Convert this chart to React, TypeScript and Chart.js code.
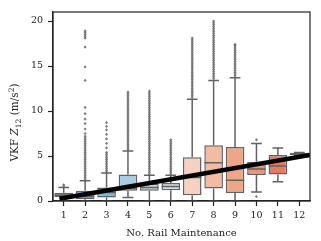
import React, { useEffect, useRef } from "react";
import { Chart, registerables } from "chart.js";

Chart.register(...registerables);

const categories = [1, 2, 3, 4, 5, 6, 7, 8, 9, 10, 11, 12];
const q1 = [0.44, 0.2, 0.4, 1.15, 1.15, 1.2, 0.65, 1.4, 0.9, 2.9, 2.95, 5.1];
const medians = [0.6, 0.5, 0.95, 1.4, 1.5, 1.6, 2.6, 4.25, 2.3, 3.55, 3.9, 5.2];
const q3 = [0.92, 1.15, 1.5, 2.95, 1.95, 2.0, 4.85, 6.2, 6.0, 4.35, 5.1, 5.35];
const whiskerLow = [0, 0, 0, 0.4, 0, 0, 0, 0, 0, 1.0, 2.15, 5.05];
const whiskerHigh = [1.5, 2.25, 3.1, 5.55, 2.85, 2.85, 11.3, 13.4, 13.7, 6.4, 5.9, 5.4];

const outliers1 = [1.65, 1.8];
const outliers2 = [2.4, 2.6, 2.8, 3.0, 3.2, 3.4, 3.6, 3.8, 4.0, 4.2, 4.4, 4.6, 4.8, 5.0, 5.2, 5.4, 5.6, 5.8, 6.0, 6.2, 6.4, 6.6, 6.8, 7.0, 7.2, 7.5, 8.0, 8.6, 9.1, 9.7, 10.4, 13.4, 14.9, 17.1, 18.1, 18.3, 18.5, 18.7, 18.9];
const outliers3 = [3.2, 3.4, 3.6, 3.8, 4.0, 4.2, 4.4, 4.6, 4.8, 5.0, 5.2, 5.4, 5.9, 6.4, 6.9, 7.4, 7.9, 8.3, 8.7];
const outliers4 = [5.7, 5.9, 6.1, 6.3, 6.5, 6.7, 6.9, 7.1, 7.3, 7.5, 7.7, 7.9, 8.1, 8.3, 8.5, 8.7, 8.9, 9.1, 9.3, 9.5, 9.7, 9.9, 10.1, 10.3, 10.5, 10.7, 10.9, 11.1, 11.3, 11.5, 11.7, 11.9, 12.1];
const outliers5 = [3.0, 3.2, 3.4, 3.6, 3.8, 4.0, 4.2, 4.4, 4.6, 4.8, 5.0, 5.2, 5.4, 5.6, 5.8, 6.0, 6.2, 6.4, 6.6, 6.8, 7.0, 7.2, 7.4, 7.6, 7.8, 8.0, 8.2, 8.4, 8.6, 8.8, 9.0, 9.2, 9.4, 9.6, 9.8, 10.0, 10.2, 10.4, 10.6, 10.8, 11.0, 11.2, 11.4, 11.6, 11.8, 12.0, 12.2];
const outliers6 = [3.0, 3.2, 3.4, 3.6, 3.8, 4.0, 4.2, 4.4, 4.6, 4.8, 5.0, 5.2, 5.4, 5.6, 5.8, 6.0, 6.2, 6.4, 6.6, 6.8];
const outliers7 = [11.5, 11.7, 11.9, 12.1, 12.3, 12.5, 12.7, 12.9, 13.1, 13.3, 13.5, 13.7, 13.9, 14.1, 14.3, 14.5, 14.7, 14.9, 15.1, 15.3, 15.5, 15.7, 15.9, 16.1, 16.3, 16.5, 16.7, 16.9, 17.1, 17.3, 17.5, 17.7, 17.9, 18.1];
const outliers8 = [13.6, 13.8, 14.0, 14.2, 14.4, 14.6, 14.8, 15.0, 15.2, 15.4, 15.6, 15.8, 16.0, 16.2, 16.4, 16.6, 16.8, 17.0, 17.2, 17.4, 17.6, 17.8, 18.0, 18.2, 18.4, 18.6, 18.8, 19.0, 19.2, 19.4, 19.6, 19.8, 20.0];
const outliers9 = [13.9, 14.1, 14.3, 14.5, 14.7, 14.9, 15.1, 15.3, 15.5, 15.7, 15.9, 16.1, 16.3, 16.5, 16.7, 16.9, 17.1, 17.3, 17.4];
const outliers10 = [6.8, 0.5];
const outliers11: number[] = [];
const outliers12: number[] = [];
const outliers = [outliers1, outliers2, outliers3, outliers4, outliers5, outliers6, outliers7, outliers8, outliers9, outliers10, outliers11, outliers12];

const fillColors = ["#5a6670", "#5596c4", "#84b8d8", "#a7cde2", "#c4d6e2", "#d3dde4", "#f4d1c0", "#f3bba1", "#efa688", "#eb9373", "#e47c60", "#d9684f"];

const regX = [0.8, 12.5];
const regY = [0.26, 5.12];

const yTicks = [0, 5, 10, 15, 20];

const xTitle = "No. Rail Maintenance";
const yTitleParts = [
  { t: "VKF ", italic: false, shift: 0 },
  { t: "Z", italic: true, shift: 0 },
  { t: "12", italic: false, shift: 1 },
  { t: " (m/s", italic: false, shift: 0 },
  { t: "2", italic: false, shift: -1 },
  { t: ")", italic: false, shift: 0 },
];

const FONT = "'DejaVu Serif', serif";
const EDGE = "#626262";

export default function App() {
  const ref = useRef<HTMLCanvasElement>(null);
  useEffect(() => {
    document.body.style.margin = "0";
    const canvas = ref.current!;
    const capHalf = 0.25;
    const boxHalf = 0.43;

    const boxData = categories.map((c, i) => ({ x: c, y: [q1[i], q3[i]] }));
    const medianData: any[] = [];
    const whiskerData: any[] = [];
    const outlierData: any[] = [];
    categories.forEach((c, i) => {
      medianData.push({ x: c - boxHalf, y: medians[i] }, { x: c + boxHalf, y: medians[i] }, { x: c, y: null });
      whiskerData.push(
        { x: c, y: q3[i] }, { x: c, y: whiskerHigh[i] }, { x: c, y: null },
        { x: c - capHalf, y: whiskerHigh[i] }, { x: c + capHalf, y: whiskerHigh[i] }, { x: c, y: null },
        { x: c, y: q1[i] }, { x: c, y: whiskerLow[i] }, { x: c, y: null },
        { x: c - capHalf, y: whiskerLow[i] }, { x: c + capHalf, y: whiskerLow[i] }, { x: c, y: null }
      );
      outliers[i].forEach((v) => outlierData.push({ x: c, y: v }));
    });
    const regData = regX.map((x, i) => ({ x, y: regY[i] }));

    const framePlugin = {
      id: "frame",
      afterDraw(chart: any) {
        const { ctx, chartArea: a } = chart;
        ctx.save();
        ctx.strokeStyle = "#222";
        ctx.lineWidth = 1.2;
        ctx.strokeRect(a.left, a.top, a.right - a.left, a.bottom - a.top);
        const base = 10.5;
        const small = 7.5;
        ctx.fillStyle = "#222";
        ctx.textBaseline = "alphabetic";
        ctx.textAlign = "left";
        const fontFor = (p: any) => `${p.italic ? "italic " : ""}${p.shift ? small : base}px ${FONT}`;
        let total = 0;
        yTitleParts.forEach((p) => { ctx.font = fontFor(p); total += ctx.measureText(p.t).width; });
        ctx.translate(18, 122.5);
        ctx.rotate(-Math.PI / 2);
        let x = -total / 2;
        yTitleParts.forEach((p) => {
          ctx.font = fontFor(p);
          const dy = p.shift === 1 ? 2.5 : p.shift === -1 ? -4.5 : 0;
          ctx.fillText(p.t, x, dy);
          x += ctx.measureText(p.t).width;
        });
        ctx.restore();
      },
    };

    const chart = new Chart(canvas, {
      type: "bar",
      data: {
        datasets: [
          {
            type: "line",
            data: regData,
            borderColor: "#000",
            borderWidth: 4.5,
            borderCapStyle: "butt",
            pointRadius: 0,
            order: 0,
          } as any,
          {
            type: "line",
            data: medianData,
            borderColor: EDGE,
            borderWidth: 1.5,
            pointRadius: 0,
            spanGaps: false,
            order: 1,
          } as any,
          {
            type: "bar",
            data: boxData,
            backgroundColor: fillColors,
            borderColor: EDGE,
            borderWidth: 1.5,
            borderSkipped: false,
            barPercentage: 0.87,
            categoryPercentage: 1,
            grouped: false,
            order: 2,
          } as any,
          {
            type: "line",
            data: whiskerData,
            borderColor: EDGE,
            borderWidth: 1.5,
            pointRadius: 0,
            spanGaps: false,
            order: 3,
          } as any,
          {
            type: "line",
            data: outlierData,
            showLine: false,
            pointStyle: "rectRot",
            pointRadius: 1.6,
            pointBorderWidth: 0,
            pointBackgroundColor: "rgba(95,95,95,0.8)",
            order: 4,
          } as any,
        ],
      },
      options: {
        responsive: false,
        animation: false,
        events: [],
        layout: { padding: { top: 12, right: 11, left: 0, bottom: 0 } },
        plugins: { legend: { display: false }, tooltip: { enabled: false } },
        scales: {
          x: {
            type: "linear",
            min: 0.5,
            max: 12.5,
            offset: false,
            afterBuildTicks: (s: any) => { s.ticks = categories.map((v) => ({ value: v })); },
            afterFit: (s: any) => { s.height = 40; },
            grid: { display: true, drawOnChartArea: false, drawTicks: true, tickLength: 5, tickWidth: 1.2, tickColor: "#222", offset: false },
            border: { display: true, color: "#222", width: 1.2 },
            ticks: { color: "#222", padding: 4, maxRotation: 0, autoSkip: false, font: { family: FONT, size: 9.5 }, callback: (v: any) => String(v) },
            title: { display: true, text: xTitle, color: "#222", font: { family: FONT, size: 10 }, padding: { top: 0, bottom: 2 } },
          },
          y: {
            type: "linear",
            min: 0,
            max: 21,
            afterBuildTicks: (s: any) => { s.ticks = yTicks.map((v) => ({ value: v })); },
            afterFit: (s: any) => { s.width = 53; },
            grid: { display: true, drawOnChartArea: false, drawTicks: true, tickLength: 5, tickWidth: 1.2, tickColor: "#222" },
            border: { display: true, color: "#222", width: 1.2 },
            ticks: { color: "#222", padding: 5, font: { family: FONT, size: 9.5 }, callback: (v: any) => String(v) },
          },
        },
      },
      plugins: [framePlugin],
    } as any);
    return () => chart.destroy();
  }, []);
  return <canvas ref={ref} width={321} height={241} style={{ display: "block" }} />;
}
